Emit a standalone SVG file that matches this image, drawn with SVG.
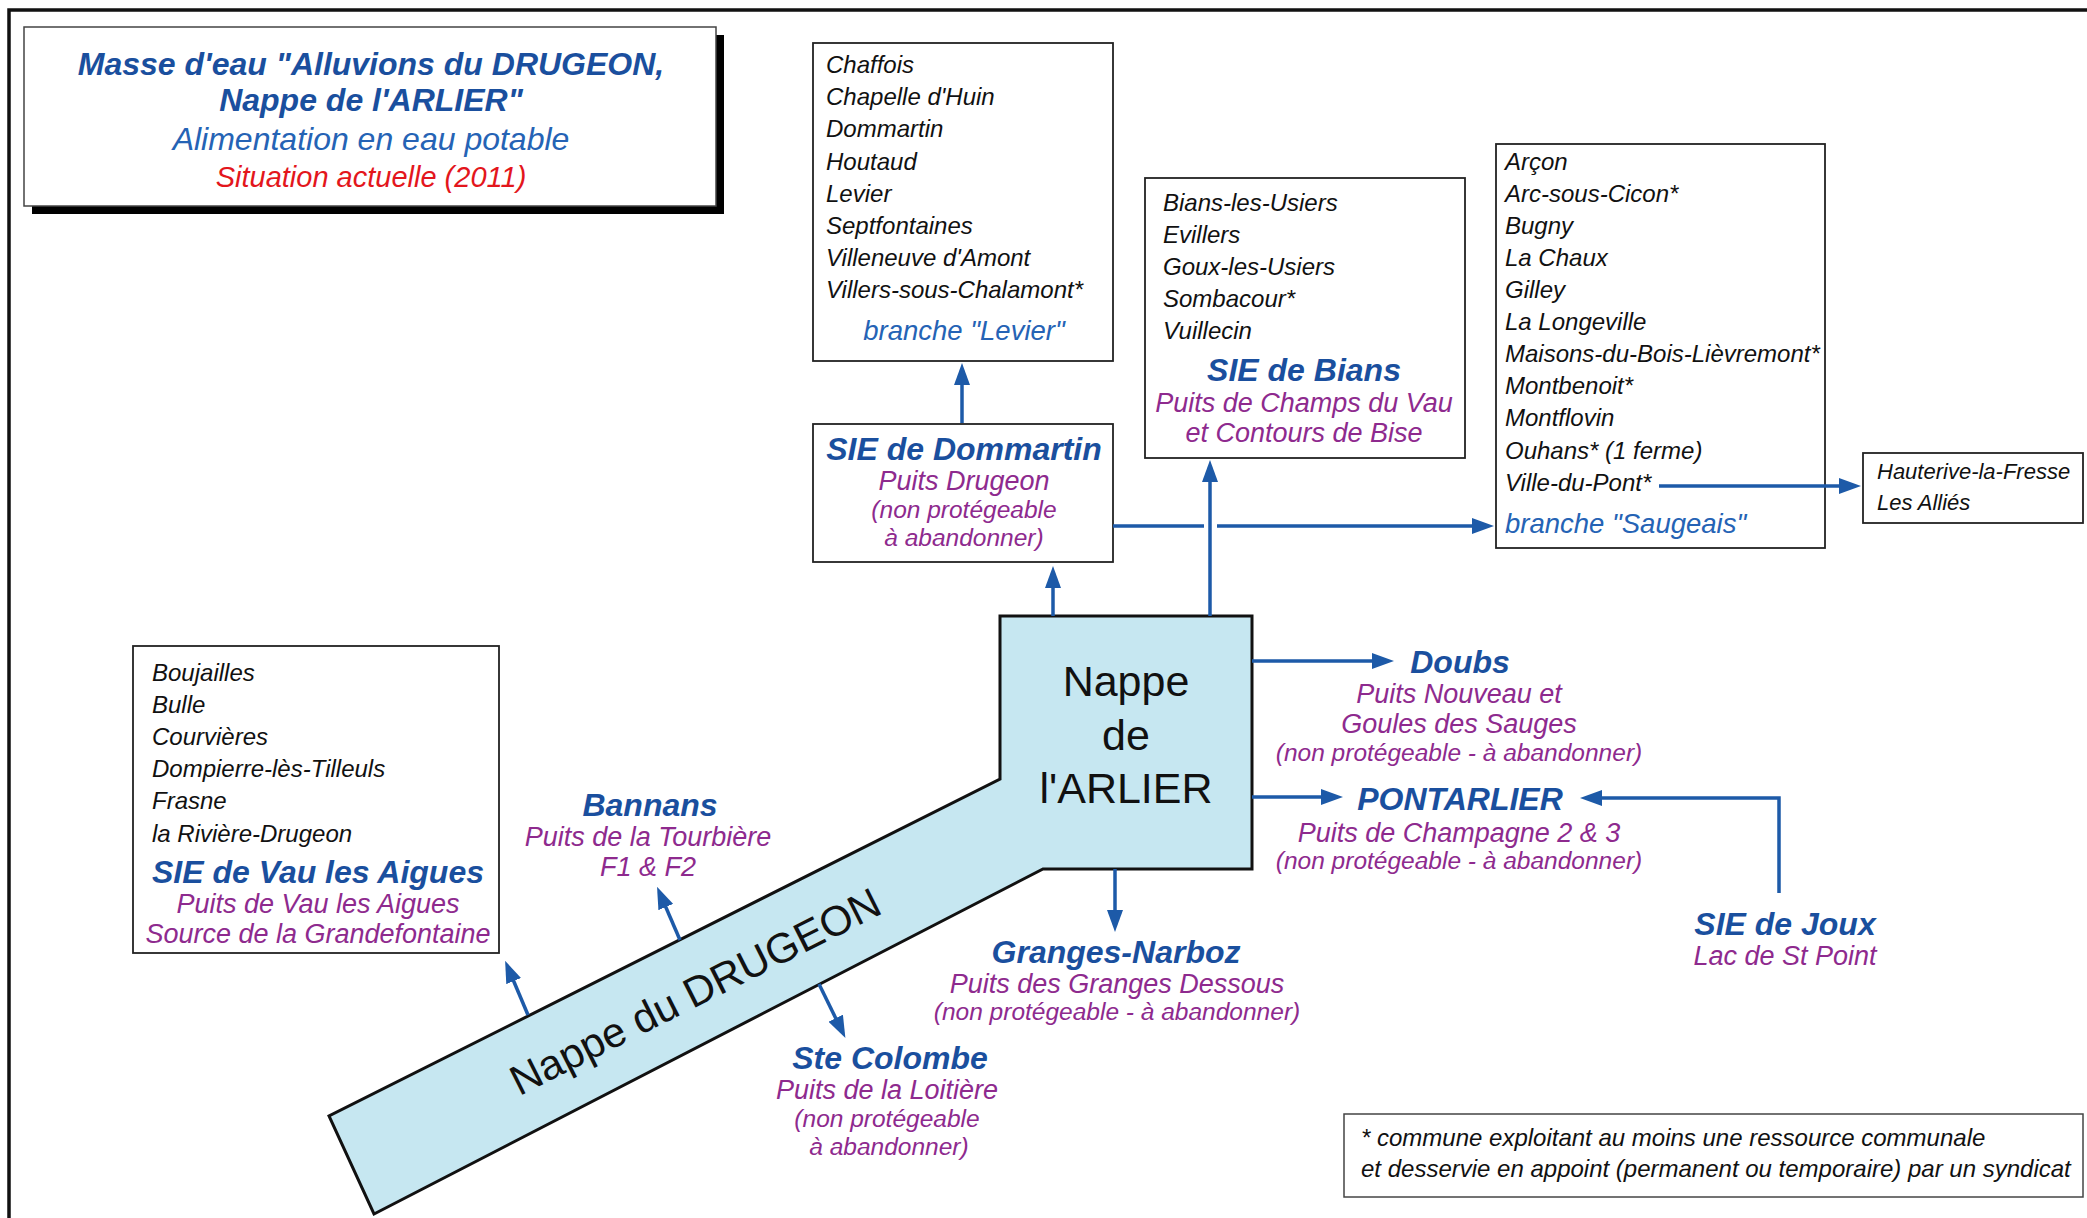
<svg xmlns="http://www.w3.org/2000/svg" width="2087" height="1218" viewBox="0 0 2087 1218">
<style>
text{font-family:"Liberation Sans",Arial,sans-serif;font-style:italic}
.box{fill:#fff;stroke:#222;stroke-width:1.8}
.ls{font-size:24px;fill:#111}
.hd{font-size:32px;font-weight:bold;fill:#1a4f9e;text-anchor:middle}
.pu{font-size:27px;fill:#8e2a8e;text-anchor:middle}
.pp{font-size:24.5px;fill:#8e2a8e;text-anchor:middle}
.br{font-size:27.5px;fill:#2563b5}
.conn{fill:none;stroke:#1d5aa8;stroke-width:3.5}
.big{font-size:43px;font-style:normal;fill:#111;text-anchor:middle}
</style>
<defs>
<marker id="ah" markerUnits="userSpaceOnUse" markerWidth="22" markerHeight="16" refX="12" refY="8" orient="auto">
<path d="M0,0 L22,8 L0,16 z" fill="#1d5aa8"/>
</marker>
</defs>
<rect width="2087" height="1218" fill="#fff"/>
<path d="M9,1230 V10 H2100" fill="none" stroke="#111" stroke-width="3.5"/>

<g id="title">
<rect x="32" y="35" width="692" height="179" fill="#000"/>
<rect x="24" y="27" width="692" height="179" fill="#fff" stroke="#444" stroke-width="1.5"/>
<text x="371" y="75" style="font-size:32px;font-weight:bold;fill:#1a4f9e;text-anchor:middle">Masse d'eau "Alluvions du DRUGEON,</text>
<text x="371" y="111" style="font-size:32px;font-weight:bold;fill:#1a4f9e;text-anchor:middle">Nappe de l'ARLIER"</text>
<text x="371" y="150" style="font-size:32px;fill:#2563b5;text-anchor:middle">Alimentation en eau potable</text>
<text x="371" y="187" style="font-size:29px;fill:#e3161c;text-anchor:middle">Situation actuelle (2011)</text>
</g>

<g id="nappe">
<polygon points="1000,616 1252,616 1252,869 1043,869 374,1214 329,1116 1000,779" fill="#c6e7f1" stroke="#111" stroke-width="3"/>
<text class="big" x="1126" y="696">Nappe</text>
<text class="big" x="1126" y="750">de</text>
<text class="big" x="1126" y="803">l'ARLIER</text>
<text class="big" transform="translate(695,991) rotate(-26.7)" x="0" y="15" style="font-size:42px">Nappe du DRUGEON</text>
</g>

<g id="levier">
<rect class="box" x="813" y="43" width="300" height="318"/>
<text class="ls" x="826" y="73">Chaffois</text>
<text class="ls" x="826" y="105">Chapelle d'Huin</text>
<text class="ls" x="826" y="137">Dommartin</text>
<text class="ls" x="826" y="170">Houtaud</text>
<text class="ls" x="826" y="202">Levier</text>
<text class="ls" x="826" y="234">Septfontaines</text>
<text class="ls" x="826" y="266">Villeneuve d'Amont</text>
<text class="ls" x="826" y="298">Villers-sous-Chalamont*</text>
<text class="br" x="964" y="340" text-anchor="middle">branche "Levier"</text>
</g>

<g id="dommartin">
<rect class="box" x="813" y="424" width="300" height="138"/>
<text class="hd" x="964" y="460">SIE de Dommartin</text>
<text class="pu" x="964" y="490">Puits Drugeon</text>
<text class="pp" x="964" y="518">(non protégeable</text>
<text class="pp" x="964" y="546">à abandonner)</text>
</g>

<g id="bians">
<rect class="box" x="1145" y="178" width="320" height="280"/>
<text class="ls" x="1163" y="211">Bians-les-Usiers</text>
<text class="ls" x="1163" y="243">Evillers</text>
<text class="ls" x="1163" y="275">Goux-les-Usiers</text>
<text class="ls" x="1163" y="307">Sombacour*</text>
<text class="ls" x="1163" y="339">Vuillecin</text>
<text class="hd" x="1304" y="381">SIE de Bians</text>
<text class="pu" x="1304" y="412">Puits de Champs du Vau</text>
<text class="pu" x="1304" y="442">et Contours de Bise</text>
</g>

<g id="saugeais">
<rect class="box" x="1496" y="144" width="329" height="404"/>
<text class="ls" x="1505" y="170">Arçon</text>
<text class="ls" x="1505" y="202">Arc-sous-Cicon*</text>
<text class="ls" x="1505" y="234">Bugny</text>
<text class="ls" x="1505" y="266">La Chaux</text>
<text class="ls" x="1505" y="298">Gilley</text>
<text class="ls" x="1505" y="330">La Longeville</text>
<text class="ls" x="1505" y="362">Maisons-du-Bois-Lièvremont*</text>
<text class="ls" x="1505" y="394">Montbenoit*</text>
<text class="ls" x="1505" y="426">Montflovin</text>
<text class="ls" x="1505" y="459">Ouhans* (1 ferme)</text>
<text class="ls" x="1505" y="491">Ville-du-Pont*</text>
<text class="br" x="1505" y="533">branche "Saugeais"</text>
</g>

<g id="hauterive">
<rect class="box" x="1863" y="453" width="220" height="70"/>
<text class="ls" x="1877" y="479" style="font-size:22px">Hauterive-la-Fresse</text>
<text class="ls" x="1877" y="510" style="font-size:22px">Les Alliés</text>
</g>

<g id="vau">
<rect class="box" x="133" y="646" width="366" height="307"/>
<text class="ls" x="152" y="681">Boujailles</text>
<text class="ls" x="152" y="713">Bulle</text>
<text class="ls" x="152" y="745">Courvières</text>
<text class="ls" x="152" y="777">Dompierre-lès-Tilleuls</text>
<text class="ls" x="152" y="809">Frasne</text>
<text class="ls" x="152" y="842">la Rivière-Drugeon</text>
<text class="hd" x="318" y="883">SIE de Vau les Aigues</text>
<text class="pu" x="318" y="913">Puits de Vau les Aigues</text>
<text class="pu" x="318" y="943">Source de la Grandefontaine</text>
</g>

<g id="bannans">
<text class="hd" x="650" y="816">Bannans</text>
<text class="pu" x="648" y="846">Puits de la Tourbière</text>
<text class="pu" x="648" y="876">F1 &amp; F2</text>
</g>

<g id="stecolombe">
<text class="hd" x="890" y="1069">Ste Colombe</text>
<text class="pu" x="887" y="1099">Puits de la Loitière</text>
<text class="pp" x="887" y="1127">(non protégeable</text>
<text class="pp" x="889" y="1155">à abandonner)</text>
</g>

<g id="granges">
<text class="hd" x="1116" y="963">Granges-Narboz</text>
<text class="pu" x="1117" y="993">Puits des Granges Dessous</text>
<text class="pp" x="1117" y="1020">(non protégeable - à abandonner)</text>
</g>

<g id="doubs">
<text class="hd" x="1460" y="673">Doubs</text>
<text class="pu" x="1459" y="703">Puits Nouveau et</text>
<text class="pu" x="1459" y="733">Goules des Sauges</text>
<text class="pp" x="1459" y="761">(non protégeable - à abandonner)</text>
</g>

<g id="pontarlier">
<text class="hd" x="1460" y="810">PONTARLIER</text>
<text class="pu" x="1459" y="842">Puits de Champagne 2 &amp; 3</text>
<text class="pp" x="1459" y="869">(non protégeable - à abandonner)</text>
</g>

<g id="joux">
<text class="hd" x="1785" y="935">SIE de Joux</text>
<text class="pu" x="1785" y="965">Lac de St Point</text>
</g>

<g id="legend">
<rect x="1344" y="1114" width="739" height="83" fill="#fff" stroke="#444" stroke-width="1.5"/>
<text class="ls" x="1361" y="1146">* commune exploitant au moins une ressource communale</text>
<text class="ls" x="1361" y="1177">et desservie en appoint (permanent ou temporaire) par un syndicat</text>
</g>

<g id="connectors">
<path class="conn" marker-end="url(#ah)" d="M962,423 V373"/>
<path class="conn" marker-end="url(#ah)" d="M1053,616 V576"/>
<path class="conn" marker-end="url(#ah)" d="M1113,526 H1204 M1217,526 H1484"/>
<path class="conn" marker-end="url(#ah)" d="M1210,616 V470"/>
<path class="conn" marker-end="url(#ah)" d="M1659,486 H1851"/>
<path class="conn" marker-end="url(#ah)" d="M1252,661 H1384"/>
<path class="conn" marker-end="url(#ah)" d="M1252,797 H1333"/>
<path class="conn" marker-end="url(#ah)" d="M1779,893 V798 H1590"/>
<path class="conn" marker-end="url(#ah)" d="M1115,869 V922"/>
<path class="conn" marker-end="url(#ah)" d="M528,1015 L509,970"/>
<path class="conn" marker-end="url(#ah)" d="M680,940 L661,896"/>
<path class="conn" marker-end="url(#ah)" d="M819,984 L841,1029"/>
</g>
</svg>
